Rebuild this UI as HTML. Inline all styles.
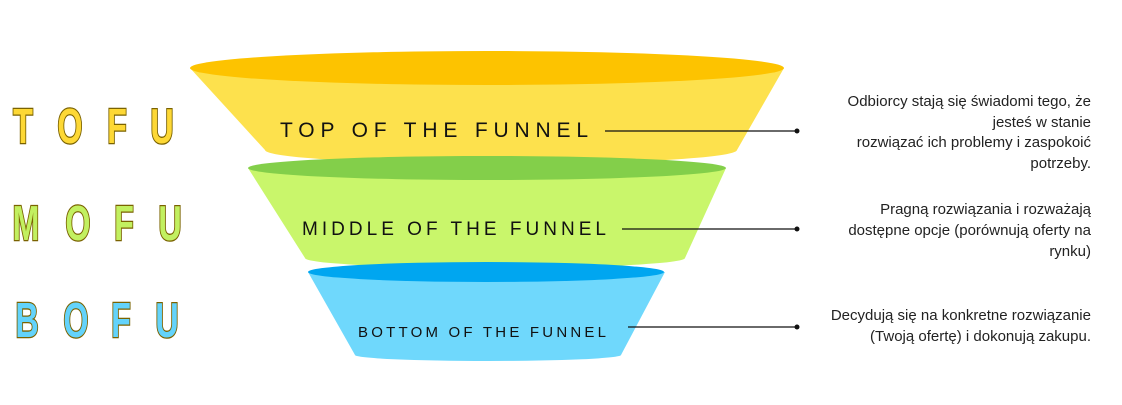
<!DOCTYPE html>
<html><head><meta charset="utf-8"><style>
body{margin:0;background:#fff;width:1122px;height:400px;overflow:hidden}
.r{font-family:"Liberation Sans","DejaVu Sans",sans-serif;font-size:15px;fill:#222}
.f{font-family:"Liberation Sans",sans-serif;fill:#111}
.l{font-family:"Liberation Sans",sans-serif;font-weight:bold;font-size:49px;stroke:#7a6200;stroke-width:2.6;paint-order:stroke}
</style></head><body>
<svg width="1122" height="400" xmlns="http://www.w3.org/2000/svg">
<path d="M190,68 L265,150 A236,14 0 0 0 737,150 L784,68 Z" fill="#fde14d"/>
<ellipse cx="487" cy="68" rx="297" ry="17" fill="#fdc300"/>
<path d="M248,168 L305,258 A190,10 0 0 0 685,258 L726,168 Z" fill="#c9f66b"/>
<ellipse cx="487" cy="168" rx="239" ry="12" fill="#83cf4a"/>
<path d="M308,272 L355,355 A133,6 0 0 0 621,355 L665,272 Z" fill="#6fd8fc"/>
<ellipse cx="486" cy="272" rx="178" ry="10" fill="#00a6f0"/>

<text class="f" x="280" y="137" font-size="21" textLength="308" lengthAdjust="spacing">TOP OF THE FUNNEL</text>
<text class="f" x="302" y="235" font-size="19" textLength="304" lengthAdjust="spacing">MIDDLE OF THE FUNNEL</text>
<text class="f" x="358" y="337" font-size="15" textLength="248" lengthAdjust="spacing">BOTTOM OF THE FUNNEL</text>

<g stroke="#111" stroke-width="1.2"><line x1="605" y1="131" x2="797" y2="131"/><line x1="622" y1="229" x2="797" y2="229"/><line x1="628" y1="327" x2="797" y2="327"/></g>
<g fill="#111"><circle cx="797" cy="131" r="2.5"/><circle cx="797" cy="229" r="2.5"/><circle cx="797" cy="327" r="2.5"/></g>

<g class="r" text-anchor="end">
<text x="1091" y="106">Odbiorcy stają się świadomi tego, że</text>
<text x="1091" y="127">jesteś w stanie</text>
<text x="1091" y="147">rozwiązać ich problemy i zaspokoić</text>
<text x="1091" y="168">potrzeby.</text>
<text x="1091" y="214">Pragną rozwiązania i rozważają</text>
<text x="1091" y="235">dostępne opcje (porównują oferty na</text>
<text x="1091" y="256">rynku)</text>
<text x="1091" y="320">Decydują się na konkretne rozwiązanie</text>
<text x="1091" y="341">(Twoją ofertę) i dokonują zakupu.</text>
</g>

<g class="l" text-anchor="middle">
<g fill="#fdd835">
<text transform="translate(23,143) scale(0.66,1)">T</text><text transform="translate(70,143) scale(0.66,1)">O</text><text transform="translate(117,143) scale(0.66,1)">F</text><text transform="translate(162,143) scale(0.66,1)">U</text></g>
<g fill="#c2f060">
<text transform="translate(26,240) scale(0.66,1)">M</text><text transform="translate(78,240) scale(0.66,1)">O</text><text transform="translate(124,240) scale(0.66,1)">F</text><text transform="translate(170,240) scale(0.66,1)">U</text></g>
<g fill="#63d3fb">
<text transform="translate(27,337) scale(0.66,1)">B</text><text transform="translate(76,337) scale(0.66,1)">O</text><text transform="translate(121,337) scale(0.66,1)">F</text><text transform="translate(167,337) scale(0.66,1)">U</text></g>
</g>
</svg>
</body></html>
